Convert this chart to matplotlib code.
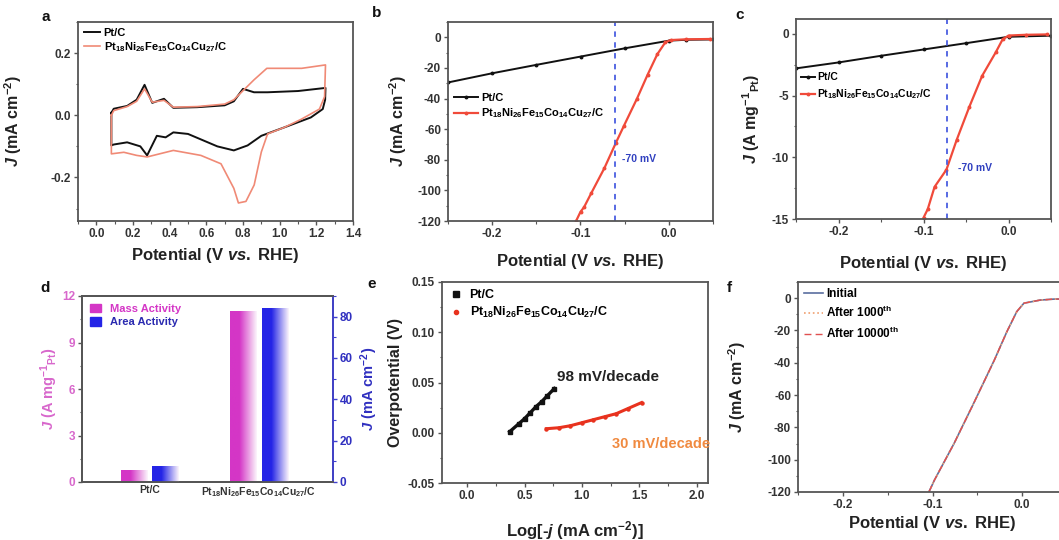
import numpy as np
import matplotlib
matplotlib.use("Agg")
import matplotlib.pyplot as plt
from matplotlib.colors import LinearSegmentedColormap
from matplotlib.patches import Patch
from matplotlib.lines import Line2D
from matplotlib.ticker import MultipleLocator

plt.rcParams["font.family"] = ["Liberation Sans", "DejaVu Sans"]
plt.rcParams["font.weight"] = "bold"
plt.rcParams["axes.unicode_minus"] = False
plt.rcParams["mathtext.fontset"] = "custom"
plt.rcParams["mathtext.rm"] = "Liberation Sans:bold"
plt.rcParams["mathtext.bf"] = "Liberation Sans:bold"
plt.rcParams["mathtext.it"] = "Liberation Sans:italic:bold"

ALLOY = r"Pt$_{18}$Ni$_{26}$Fe$_{15}$Co$_{14}$Cu$_{27}$/C"
XLAB = r"Potential (V $\it{vs.}$ RHE)"
JAREA = r"$\it{J}$ (mA cm$^{-2}$)"
JMASS = r"$\it{J}$ (A mg$^{-1}$$_{\rm Pt}$)"

# ---- a: CV loops ----
cv_ptc_x = [0.082, 0.095, 0.168, 0.22, 0.263, 0.305, 0.369, 0.42, 0.55, 0.70, 0.75, 0.80, 0.86,
            0.934, 1.10, 1.25, 1.248, 1.235, 1.17, 1.025, 0.90, 0.825, 0.75, 0.66, 0.50, 0.42,
            0.378, 0.33, 0.277, 0.24, 0.168, 0.095, 0.082, 0.082]
cv_ptc_y = [0.008, 0.021, 0.030, 0.050, 0.098, 0.040, 0.053, 0.024, 0.026, 0.032, 0.045, 0.085, 0.074,
            0.074, 0.078, 0.088, 0.05, 0.020, -0.007, -0.039, -0.066, -0.097, -0.113, -0.10, -0.06, -0.055,
            -0.071, -0.066, -0.129, -0.10, -0.087, -0.094, -0.097, 0.008]
cv_alloy_x = [0.082, 0.095, 0.168, 0.22, 0.263, 0.305, 0.369, 0.42, 0.55, 0.70, 0.75, 0.86, 0.93,
              1.12, 1.25, 1.245, 1.217, 1.117, 1.025, 0.934, 0.90, 0.861, 0.816, 0.775, 0.75, 0.68,
              0.57, 0.42, 0.277, 0.22, 0.15, 0.082, 0.082]
cv_alloy_y = [0.0, 0.015, 0.028, 0.045, 0.085, 0.042, 0.048, 0.026, 0.028, 0.036, 0.05, 0.114, 0.151,
              0.151, 0.162, 0.06, 0.02, -0.013, -0.039, -0.06, -0.118, -0.224, -0.277, -0.282, -0.235, -0.156,
              -0.129, -0.113, -0.134, -0.129, -0.119, -0.124, 0.0]

# ---- b: LSV area-normalised ----
lsv_ptc_x = [-0.25, -0.20, -0.15, -0.10, -0.05, 0.0, 0.02, 0.05]
lsv_ptc_j = [-29.5, -23.5, -18.0, -12.6, -7.2, -2.2, -1.6, -1.4]
lsv_alloy_x = [-0.105, -0.100, -0.096, -0.088, -0.073, -0.060, -0.051, -0.036, -0.024, -0.013,
               -0.004, 0.002, 0.02, 0.047]
lsv_alloy_j = [-120, -114, -111, -102, -85.5, -69, -58, -40, -24.4, -11, -3.3, -1.8, -1.3, -1.1]
line_b = -0.061

# ---- c: LSV mass-normalised ----
mass_ptc_x = [-0.25, -0.20, -0.15, -0.10, -0.05, 0.0, 0.05]
mass_ptc_j = [-2.8, -2.32, -1.78, -1.27, -0.76, -0.24, -0.15]
mass_alloy_x = [-0.100, -0.095, -0.087, -0.073, -0.061, -0.046, -0.031, -0.015, -0.007, 0.0, 0.02, 0.045]
mass_alloy_j = [-14.9, -14.2, -12.4, -11.0, -8.6, -5.9, -3.4, -1.5, -0.46, -0.14, -0.08, -0.05]
line_c = -0.072

# ---- d: activities ----
catalysts = ["Pt/C", ALLOY]
mass_activity = [0.75, 11.0]
area_activity = [7.6, 84.0]

# ---- e: Tafel ----
tafel_ptc_x = [0.37, 0.45, 0.50, 0.55, 0.60, 0.65, 0.70, 0.76]
tafel_ptc_y = [0.001, 0.009, 0.014, 0.020, 0.026, 0.031, 0.037, 0.044]
tafel_alloy_x = [0.69, 0.80, 0.90, 1.00, 1.10, 1.20, 1.30, 1.40, 1.52]
tafel_alloy_y = [0.004, 0.005, 0.007, 0.010, 0.013, 0.016, 0.019, 0.024, 0.030]

# ---- f: stability ----
stab_x = [-0.104, -0.098, -0.093, -0.076, -0.054, -0.031, -0.017, -0.006, 0.002, 0.02, 0.035, 0.05]
stab_initial = [-120, -112.8, -107.6, -90, -65, -38.3, -20.7, -8.3, -3.1, -1.2, -0.6, -0.5]
stab_1000 = [-120, -112.8, -107.6, -90, -65, -38.3, -20.7, -8.3, -3.1, -1.2, -0.6, -0.5]
stab_10000 = [-120, -112.8, -107.6, -90, -65, -38.3, -20.7, -8.3, -3.1, -1.2, -0.6, -0.5]

W, H = 1059, 540
fig = plt.figure(figsize=(W / 100, H / 100), dpi=100)


def add_ax(l, r, t, b):
    ax = fig.add_axes([l / W, 1 - b / H, (r - l) / W, (b - t) / H])
    ax._box = (l, r, t, b)
    return ax


def style(ax, tick_color="#333333"):
    for s in ax.spines.values():
        s.set_color("#555555")
        s.set_linewidth(1.3)
    ax.tick_params(which="both", direction="out", labelsize=8.5, colors="#555555",
                   labelcolor=tick_color, pad=2)
    ax.tick_params(which="major", length=3, width=1)
    ax.tick_params(which="minor", length=1.8, width=0.8)


def labels(ax, xl, yl, x_top, y_cx, color="#222222", size=12, right=False):
    l, r, t, b = ax._box
    w, h = r - l, b - t
    if xl:
        ax.set_xlabel(xl, fontsize=size, fontweight="bold", color=color)
        ax.xaxis.set_label_coords(0.5, -(x_top - b) / h)
    if yl:
        ax.set_ylabel(yl, fontsize=size - 0.5, fontweight="bold", color=color)
        if right:
            ax.yaxis.set_label_coords((y_cx - 8 - l) / w, 0.5)
        else:
            ax.yaxis.set_label_coords((y_cx + 8 - l) / w, 0.5)


LEG = dict(frameon=False, borderaxespad=0.1)

# a
ax = add_ax(78, 353, 22, 221)
ax.plot(cv_ptc_x, cv_ptc_y, color="#111111", lw=1.4, label="Pt/C")
ax.plot(cv_alloy_x, cv_alloy_y, color="#f08a76", lw=1.2, label=ALLOY)
ax.set_xlim(-0.1, 1.4)
ax.set_ylim(-0.34, 0.3)
ax.xaxis.set_major_locator(MultipleLocator(0.2))
ax.xaxis.set_minor_locator(MultipleLocator(0.1))
ax.yaxis.set_major_locator(MultipleLocator(0.2))
ax.yaxis.set_minor_locator(MultipleLocator(0.1))
labels(ax, XLAB, JAREA, 246, 16)
ax.legend(loc="upper left", handlelength=1.5, handletextpad=0.3, labelspacing=0.25,
          prop={"weight": "bold", "size": 8}, **LEG)
style(ax)

# b
ax = add_ax(448, 713, 22, 221)
ax.plot(lsv_ptc_x, lsv_ptc_j, "-o", color="#111111", lw=1.4, ms=1.8, label="Pt/C")
ax.plot(lsv_alloy_x, lsv_alloy_j, "-o", color="#f04a3a", lw=1.6, ms=1.8, label=ALLOY)
ax.axvline(line_b, color="#4a5ee0", ls=(0, (3, 3)), lw=1.3)
ax.text(line_b + 0.008, -79.5, "-70 mV", color="#3040c0", fontsize=7.5, fontweight="bold", va="center")
ax.set_xlim(-0.25, 0.05)
ax.set_ylim(-120, 10)
ax.xaxis.set_major_locator(MultipleLocator(0.1))
ax.xaxis.set_minor_locator(MultipleLocator(0.05))
ax.yaxis.set_major_locator(MultipleLocator(20))
ax.yaxis.set_minor_locator(MultipleLocator(10))
labels(ax, XLAB, JAREA, 252, 401)
ax.legend(loc="upper left", bbox_to_anchor=(0.0, 0.67), handlelength=2.2, handletextpad=0.3,
          labelspacing=0.3, prop={"weight": "bold", "size": 8}, **LEG)
style(ax)

# c
ax = add_ax(796, 1051, 19, 219)
ax.plot(mass_ptc_x, mass_ptc_j, "-o", color="#111111", lw=1.4, ms=1.8, label="Pt/C")
ax.plot(mass_alloy_x, mass_alloy_j, "-o", color="#f04a3a", lw=1.6, ms=1.8, label=ALLOY)
ax.axvline(line_c, color="#4a5ee0", ls=(0, (3, 3)), lw=1.3)
ax.text(line_c + 0.012, -10.9, "-70 mV", color="#3040c0", fontsize=7.5, fontweight="bold", va="center")
ax.set_xlim(-0.25, 0.05)
ax.set_ylim(-15, 1.2)
ax.xaxis.set_major_locator(MultipleLocator(0.1))
ax.xaxis.set_minor_locator(MultipleLocator(0.05))
ax.yaxis.set_major_locator(MultipleLocator(5))
ax.yaxis.set_minor_locator(MultipleLocator(2.5))
labels(ax, XLAB, JMASS, 254, 754)
ax.legend(loc="upper left", bbox_to_anchor=(0.0, 0.76), handlelength=1.3, handletextpad=0.2,
          labelspacing=0.5, prop={"weight": "bold", "size": 7.5}, **LEG)
style(ax)

# d
MAG, BLU = "#d436c6", "#2424e6"
ax = add_ax(82, 333, 296, 482)
ax2 = ax.twinx()
ax2._box = ax._box
xpos = np.arange(len(catalysts))
bw, off = 0.24, 0.145


def grad_bar(a, x, h, color):
    cmap = LinearSegmentedColormap.from_list("g", [(0, color), (0.35, color), (1, "#fbf4fb")])
    a.imshow(np.linspace(0, 1, 64).reshape(1, -1), cmap=cmap, aspect="auto",
             extent=(x - bw / 2, x + bw / 2, 0, h), zorder=2)


for x, m, s in zip(xpos, mass_activity, area_activity):
    grad_bar(ax, x - off, m, MAG)
    grad_bar(ax2, x + off, s, BLU)
ax.set_xlim(-0.62, 1.68)
ax.set_ylim(0, 12)
ax2.set_ylim(0, 90)
ax.set_xticks(xpos)
ax.set_xticklabels(catalysts)
ax.yaxis.set_major_locator(MultipleLocator(3))
ax.yaxis.set_minor_locator(MultipleLocator(1.5))
ax2.yaxis.set_major_locator(MultipleLocator(20))
ax2.yaxis.set_minor_locator(MultipleLocator(10))
style(ax, "#d868cc")
style(ax2, "#3030c0")
ax.tick_params(axis="x", length=0, labelcolor="#333333", labelsize=7.5)
ax2.spines["right"].set_color("#4040d0")
ax2.tick_params(axis="y", which="both", colors="#4040d0", labelcolor="#3030c0")
labels(ax, None, JMASS, 0, 52, color="#d868cc", size=11)
labels(ax2, None, JAREA, 0, 366, color="#3030c0", size=11, right=True)
ax.legend(handles=[Patch(color=MAG, label="Mass Activity"), Patch(color=BLU, label="Area Activity")],
          loc="upper left", frameon=False, handlelength=1.0, handleheight=0.8,
          borderaxespad=0.3, labelspacing=0.3, prop={"weight": "bold", "size": 8},
          labelcolor=[MAG, "#2a2ab0"])

# e
ax = add_ax(442, 708, 282, 483)
ax.plot(tafel_ptc_x, tafel_ptc_y, "-s", color="#111111", lw=2.4, ms=2.4)
ax.plot(tafel_alloy_x, tafel_alloy_y, "-o", color="#e8321e", lw=2.2, ms=2.2)
ax.text(0.785, 0.055, "98 mV/decade", fontsize=11, fontweight="bold", color="#222222", va="center")
ax.text(1.26, -0.011, "30 mV/decade", fontsize=10.5, fontweight="bold", color="#f08a40", va="center")
ax.set_xlim(-0.22, 2.1)
ax.set_ylim(-0.05, 0.15)
ax.xaxis.set_major_locator(MultipleLocator(0.5))
ax.xaxis.set_minor_locator(MultipleLocator(0.25))
ax.yaxis.set_major_locator(MultipleLocator(0.05))
ax.yaxis.set_minor_locator(MultipleLocator(0.025))
labels(ax, r"Log[-$\it{j}$ (mA cm$^{-2}$)]", "Overpotential (V)", 519, 395)
ax.legend(handles=[Line2D([], [], ls="none", marker="s", color="#111111", ms=4, label="Pt/C"),
                   Line2D([], [], ls="none", marker="o", color="#e8321e", ms=3, label=ALLOY)],
          loc="upper left", frameon=False, handlelength=1.0, handletextpad=0.6,
          borderaxespad=0.2, labelspacing=0.3, prop={"weight": "bold", "size": 9})
style(ax)

# f
ax = add_ax(798, 1067, 282, 492)
ax.plot(stab_x, stab_initial, color="#5a6ea0", lw=1.2, label="Initial")
ax.plot(stab_x, stab_1000, color="#f0a070", lw=1.2, ls=":", label=r"After 1000$^{\rm th}$")
ax.plot(stab_x, stab_10000, color="#e05050", lw=1.0, ls=(0, (5, 3)), label=r"After 10000$^{\rm th}$")
ax.set_xlim(-0.25, 0.05)
ax.set_ylim(-120, 10)
ax.xaxis.set_major_locator(MultipleLocator(0.1))
ax.xaxis.set_minor_locator(MultipleLocator(0.05))
ax.yaxis.set_major_locator(MultipleLocator(20))
ax.yaxis.set_minor_locator(MultipleLocator(10))
labels(ax, XLAB, JAREA, 514, 740)
ax.legend(loc="upper left", handlelength=1.6, handletextpad=0.3, labelspacing=0.45,
          prop={"weight": "bold", "size": 8.5}, **LEG)
style(ax)

for t, x, y in [("a", 42, 17), ("b", 372, 13), ("c", 735, 15),
                ("d", 40, 288), ("e", 367, 284), ("f", 727, 288)]:
    fig.text(x / W, 1 - y / H, t, fontsize=11, fontweight="bold", va="center", color="#111111")

fig.savefig("out.png", dpi=100)
